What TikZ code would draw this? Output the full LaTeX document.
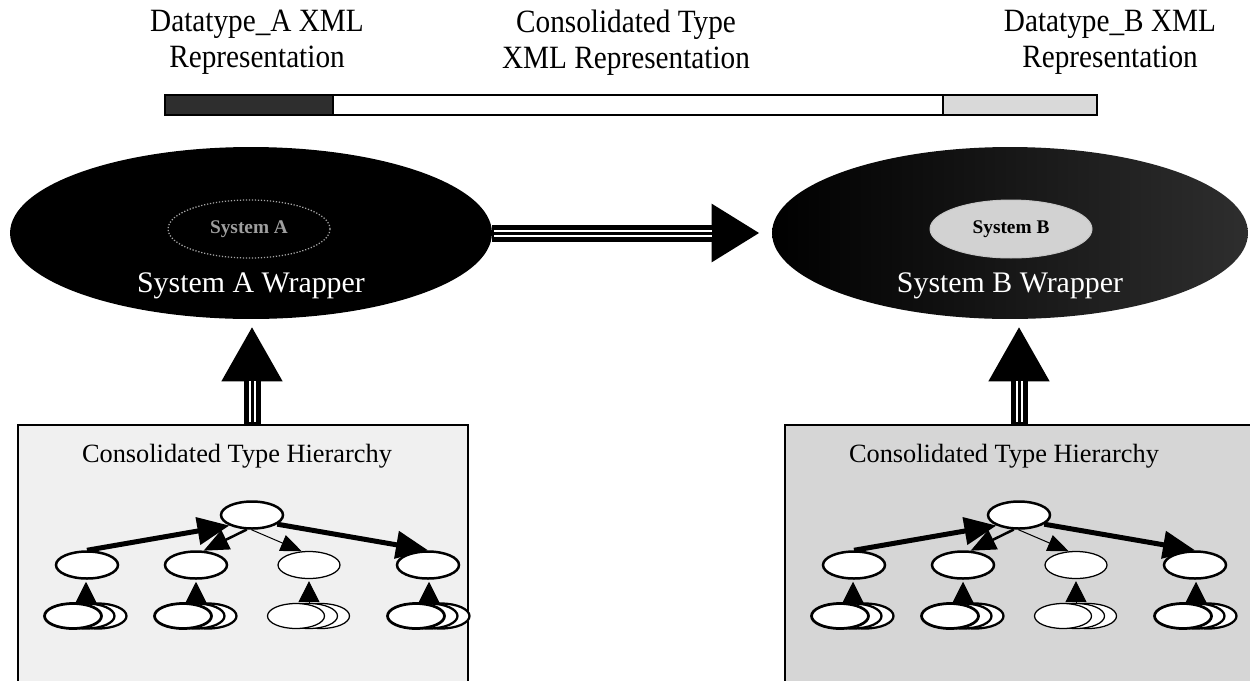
\documentclass[tikz,border=0pt]{standalone}
\usepackage{fontspec}
\setmainfont{Liberation Serif}
\newfontfamily\tallfont[FakeStretch=0.9]{Liberation Serif}
\usetikzlibrary{arrows.meta,shapes.geometric}
\begin{document}
\begin{tikzpicture}[x=0.02cm,y=-0.02cm,
  toptext/.style={align=center, inner sep=0pt, anchor=north, font=\tallfont\fontsize{18.5}{20.5}\selectfont},
  barseg/.style={draw, line width=0.04cm, inner sep=0pt, minimum height=0.4cm},
  wrapper/.style={ellipse, inner sep=0pt, minimum width=9.64cm, minimum height=3.44cm},
  inner/.style={ellipse, inner sep=0pt, minimum width=3.24cm, minimum height=1.16cm, font=\fontsize{11}{13}\selectfont\bfseries},
  wraptext/.style={inner sep=0pt, anchor=base, text=white, font=\fontsize{17}{20}\selectfont},
  hbox/.style={draw, line width=0.04cm, inner sep=0pt, minimum height=5.3cm},
  boxtext/.style={inner sep=0pt, anchor=base, font=\fontsize{15}{18}\selectfont},
  tnode/.style={ellipse, draw, line width=0.05cm, fill=white, inner sep=0pt, minimum width=1.24cm, minimum height=0.54cm},
  tthin/.style={tnode, line width=0.025cm},
  snode/.style={ellipse, draw, line width=0.045cm, fill=white, inner sep=0pt, minimum width=1.14cm, minimum height=0.5cm},
  sthin/.style={snode, line width=0.025cm},
  bigarr/.style={line width=0.1cm, -{Triangle[length=0.64cm,width=0.54cm]}},
  midarr/.style={line width=0.05cm, -{Triangle[length=0.5cm,width=0.42cm]}},
  thinarr/.style={line width=0.02cm, -{Triangle[length=0.42cm,width=0.34cm]}},
  smallarr/.style={line width=0.02cm, -{Triangle[length=0.42cm,width=0.42cm]}},
  shaftout/.style={line width=0.34cm},
  shaftwhite/.style={line width=0.14cm, white},
  shaftin/.style={line width=0.06cm}
]
\useasboundingbox (0,0) rectangle (1250,680);
\clip (0,0) rectangle (1250,680);

% top labels
\node[toptext] (lblA) at (257,10) {Datatype\_A XML\\Representation};
\node[toptext] (lblM) at (626,10) {Consolidated Type\\XML Representation};
\node[toptext] (lblB) at (1110,10) {Datatype\_B XML\\Representation};

% bar
\node[barseg, fill=black!82, minimum width=3.36cm] (barA) at (249,105) {};
\node[barseg, fill=white, minimum width=12.2cm] (barM) at (638,105) {};
\node[barseg, fill=gray!30, minimum width=3.08cm] (barB) at (1020,105) {};

% wrappers
\node[wrapper, fill=black] (wrapA) at (251,233) {};
\node[wrapper, minimum width=9.52cm, left color=black, middle color=black, right color=black!82!white] (wrapB) at (1010,233) {};
\node[inner, fill=black, draw=gray!70, densely dotted, line width=0.025cm, text=gray!75] (sysA) at (249,229) {System A};
\node[inner, fill=gray!35, draw=gray!45, line width=0.02cm] (sysB) at (1011,229) {System B};
\node[wraptext] (wtA) at (251,292) {System A Wrapper};
\node[wraptext] (wtB) at (1010,292) {System B Wrapper};

% boxes
\node[hbox, fill=gray!12, minimum width=9cm] (boxA) at (243,557.5) {};
\node[hbox, fill=gray!32, minimum width=9.5cm] (boxB) at (1022.5,557.5) {};
\node[boxtext] (htA) at (237,462) {Consolidated Type Hierarchy};
\node[boxtext] (htB) at (1004,462) {Consolidated Type Hierarchy};

% trees
\foreach \p/\s in {A/0,B/767}{
\begin{scope}[shift={(\s,0)}, name prefix=\p-]
  \node[tnode] (root) at (252,515) {};
  \node[tnode] (c1) at (87,565) {};
  \node[tnode] (c2) at (196,565) {};
  \node[tthin] (c3) at (309,565) {};
  \node[tnode] (c4) at (428,565) {};
  % stacks
  \node[snode] (s1b) at (98,616) {};
  \node[snode] (s1m) at (86,616) {};
  \node[snode, line width=0.055cm] (s1f) at (73,616) {};
  \node[snode] (s2b) at (208,616) {};
  \node[snode] (s2m) at (196,616) {};
  \node[snode, line width=0.055cm] (s2f) at (183,616) {};
  \node[sthin] (s3b) at (321,616) {};
  \node[sthin] (s3m) at (309,616) {};
  \node[sthin] (s3f) at (296,616) {};
  \node[snode] (s4b) at (441,616) {};
  \node[snode] (s4m) at (429,616) {};
  \node[snode, line width=0.055cm] (s4f) at (416,616) {};
  % arrows
  \draw[bigarr] (c1.north) -- (root.205);
  \draw[midarr] (root.250) -- (c2.62);
  \draw[thinarr] (root.268) -- (c3.118);
  \draw[bigarr] (root.340) -- (c4.north);
  \draw[smallarr, shorten >=0.04cm] (s1m.north) -- (s1m.north |- c1.south);
  \draw[smallarr, shorten >=0.04cm] (s2m.north) -- (s2m.north |- c2.south);
  \draw[smallarr, shorten >=0.04cm] (s3m.north) -- (s3m.north |- c3.south);
  \draw[smallarr, shorten >=0.04cm] (s4m.north) -- (s4m.north |- c4.south);
\end{scope}
}

% horizontal triple arrow
\draw[shaftout, -{Triangle[length=0.96cm,width=1.1cm]}, shorten >=0.24cm] (wrapA.east) -- (wrapB.west);
\draw[shaftwhite, shorten >=1.2cm, shorten <=0.04cm] (wrapA.east) -- (wrapB.west);
\draw[shaftin, shorten >=1.2cm] (wrapA.east) -- (wrapB.west);

% vertical triple arrows
\draw[shaftout, -{Triangle[length=1.1cm,width=1.14cm]}, shorten >=0.14cm] (A-root |- boxA.north) -- (A-root |- wrapA.south);
\draw[shaftwhite, shorten >=1.24cm, shorten <=0.04cm] (A-root |- boxA.north) -- (A-root |- wrapA.south);
\draw[shaftin, shorten >=1.24cm] (A-root |- boxA.north) -- (A-root |- wrapA.south);

\draw[shaftout, -{Triangle[length=1.1cm,width=1.14cm]}, shorten >=0.14cm] (B-root |- boxB.north) -- (B-root |- wrapB.south);
\draw[shaftwhite, shorten >=1.24cm, shorten <=0.04cm] (B-root |- boxB.north) -- (B-root |- wrapB.south);
\draw[shaftin, shorten >=1.24cm] (B-root |- boxB.north) -- (B-root |- wrapB.south);
\end{tikzpicture}
\end{document}
